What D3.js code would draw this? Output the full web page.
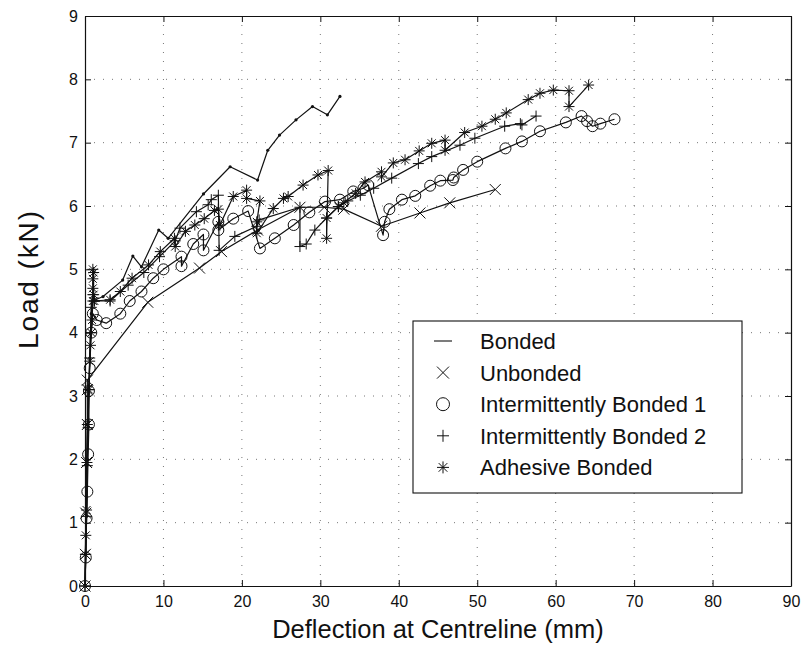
<!DOCTYPE html>
<html>
<head>
<meta charset="utf-8">
<script src="https://cdn.jsdelivr.net/npm/d3@7"></script>
<style>
  html, body { margin: 0; padding: 0; background: #fff; }
  svg { display: block; }
  text { font-family: "Liberation Sans", Arial, Helvetica, sans-serif; fill: #111; }
</style>
</head>
<body>
<svg id="chart" width="805" height="645"></svg>
<script>
// ---------- Data (deflection mm, load kN) ----------
const xTicks = [0, 10, 20, 30, 40, 50, 60, 70, 80, 90];
const yTicks = [0, 1, 2, 3, 4, 5, 6, 7, 8, 9];

const bondedX = [0, 0.1, 0.2, 0.3, 0.4, 0.5, 0.6, 0.7, 0.8, 1.0, 2.3, 4.8, 6.1, 7.2, 9.4, 10.6, 15.1, 18.5, 22.0, 23.3, 24.8, 26.9, 29.0, 30.9, 32.5];
const bondedY = [0, 0.5, 1.1, 2.0, 2.6, 3.1, 3.6, 4.0, 4.3, 4.5, 4.57, 4.83, 5.21, 5.04, 5.62, 5.49, 6.19, 6.62, 6.41, 6.88, 7.12, 7.36, 7.57, 7.44, 7.73];

const unbondedX = [0, 0.05, 0.1, 0.2, 0.3, 0.3, 0.3, 8.0, 14.6, 17.4, 22.0, 27.4, 30.5, 33.0, 37.8, 42.7, 46.5, 52.3];
const unbondedY = [0, 0.5, 1.15, 1.95, 2.55, 3.1, 3.25, 4.48, 5.02, 5.28, 5.62, 5.98, 5.98, 5.95, 5.68, 5.89, 6.05, 6.26];

const ib1X = [0, 0.1, 0.2, 0.3, 0.4, 0.5, 0.5, 0.6, 0.8, 1.0, 1.5, 2.7, 4.5, 5.7, 7.2, 8.7, 10.0, 12.3, 12.3, 13.8, 15.1, 15.1, 17.0, 17.0, 18.9, 20.8, 22.3, 24.2, 26.6, 28.6, 30.6, 32.5, 34.2, 35.5, 36.1, 38.0, 38.2, 38.8, 40.4, 42.1, 44.0, 45.3, 46.9, 47.0, 48.2, 50.0, 53.6, 55.7, 58.0, 61.3, 63.3, 64.0, 64.7, 65.7, 67.5];
const ib1Y = [0, 0.45, 1.07, 1.49, 2.08, 2.55, 3.08, 3.44, 4.0, 4.3, 4.2, 4.15, 4.3, 4.5, 4.65, 4.86, 5.0, 5.2, 5.05, 5.4, 5.55, 5.3, 5.75, 5.62, 5.8, 5.92, 5.33, 5.49, 5.7, 5.9, 6.07, 6.1, 6.23, 6.28, 6.33, 5.54, 5.75, 5.95, 6.1, 6.16, 6.32, 6.4, 6.41, 6.45, 6.57, 6.7, 6.91, 7.02, 7.18, 7.32, 7.42, 7.34, 7.26, 7.3, 7.37];

const ib2X = [0, 0.1, 0.2, 0.3, 0.4, 0.5, 0.6, 0.7, 0.8, 1.0, 1.2, 3.2, 5.5, 7.5, 9.5, 11.5, 12.1, 14.2, 15.7, 16.1, 17.0, 17.1, 19.1, 21.9, 22.2, 27.4, 27.4, 28.2, 29.3, 30.8, 32.3, 33.5, 35.1, 36.8, 39.1, 42.5, 44.2, 47.8, 49.7, 53.5, 55.5, 55.7, 57.5];
const ib2Y = [0, 0.5, 1.1, 1.9, 2.5, 3.1, 3.6, 4.0, 4.4, 4.6, 4.5, 4.5, 4.75, 4.95, 5.2, 5.45, 5.65, 5.91, 6.02, 6.1, 6.17, 5.3, 5.52, 5.68, 5.78, 5.98, 5.36, 5.4, 5.62, 5.81, 5.99, 6.08, 6.17, 6.28, 6.44, 6.67, 6.78, 6.96, 7.07, 7.26, 7.3, 7.28, 7.42];

const adhX = [0, 0.05, 0.1, 0.2, 0.25, 0.3, 0.5, 0.6, 0.7, 0.8, 0.9, 1.0, 1.0, 1.0, 1.0, 1.1, 1.1, 1.2, 3.2, 4.5, 6.0, 8.1, 9.6, 11.4, 11.5, 12.8, 14.0, 15.2, 16.5, 17.0, 17.2, 18.9, 20.6, 20.6, 22.3, 21.9, 21.9, 24.0, 25.3, 25.9, 27.8, 29.7, 31.0, 30.8, 30.8, 32.3, 33.0, 34.5, 35.7, 37.8, 37.8, 39.3, 40.8, 42.6, 44.2, 45.9, 45.9, 48.4, 50.6, 52.3, 53.7, 56.5, 58.0, 59.7, 61.7, 61.7, 64.2];
const adhY = [0, 0.5, 0.8, 1.2, 1.95, 2.55, 3.1, 3.55, 3.8, 4.0, 4.2, 4.5, 4.7, 4.85, 5.0, 4.95, 4.6, 4.5, 4.52, 4.65, 4.86, 5.07, 5.28, 5.49, 5.36, 5.6, 5.7, 5.8, 5.93, 5.95, 5.7, 6.15, 6.25, 6.12, 6.08, 5.75, 5.57, 5.96, 6.12, 6.15, 6.33, 6.49, 6.56, 5.49, 5.81, 5.99, 6.05, 6.2, 6.38, 6.54, 6.46, 6.68, 6.73, 6.87, 6.99, 7.04, 6.88, 7.16, 7.26, 7.37, 7.47, 7.68, 7.78, 7.83, 7.82, 7.57, 7.91];

const seriesNames = ["Bonded", "Unbonded", "Intermittently Bonded 1", "Intermittently Bonded 2", "Adhesive Bonded"];
const seriesMarkers = ["dot", "x", "o", "plus", "star"];
const seriesX = [bondedX, unbondedX, ib1X, ib2X, adhX];
const seriesY = [bondedY, unbondedY, ib1Y, ib2Y, adhY];

// ---------- Layout ----------
const svg = d3.select("#chart");
const L = 85, R = 791, T = 16, B = 586;
const x = d3.scaleLinear().domain([0, 90]).range([L, R]);
const y = d3.scaleLinear().domain([0, 9]).range([B, T]);
const ink = "#111";

// grid
const grid = svg.append("g");
grid.selectAll("line.gx").data(xTicks.slice(1, -1)).join("line")
  .attr("x1", d => x(d)).attr("x2", d => x(d)).attr("y1", T).attr("y2", B)
  .attr("stroke", "#777").attr("stroke-width", 1).attr("stroke-dasharray", "1,8");
grid.selectAll("line.gy").data(yTicks.slice(1, -1)).join("line")
  .attr("y1", d => y(d)).attr("y2", d => y(d)).attr("x1", L).attr("x2", R)
  .attr("stroke", "#777").attr("stroke-width", 1).attr("stroke-dasharray", "1,8");

// axes (ticks inside, all four sides)
const tickLen = 6;
const axB = svg.append("g").attr("transform", `translate(0,${B})`)
  .call(d3.axisBottom(x).tickValues(xTicks).tickSizeInner(-tickLen).tickSizeOuter(0).tickPadding(10));
const axT = svg.append("g").attr("transform", `translate(0,${T})`)
  .call(d3.axisTop(x).tickValues(xTicks).tickSizeInner(-tickLen).tickSizeOuter(0).tickFormat(""));
const axL = svg.append("g").attr("transform", `translate(${L},0)`)
  .call(d3.axisLeft(y).tickValues(yTicks).tickSizeInner(-tickLen).tickSizeOuter(0).tickPadding(7));
const axR = svg.append("g").attr("transform", `translate(${R},0)`)
  .call(d3.axisRight(y).tickValues(yTicks).tickSizeInner(-tickLen).tickSizeOuter(0).tickFormat(""));
[axB, axT, axL, axR].forEach(a => {
  a.select(".domain").attr("stroke", ink).attr("stroke-width", 1.2);
  a.selectAll(".tick line").attr("stroke", ink).attr("stroke-width", 1);
  a.selectAll(".tick text").attr("font-size", 16).attr("fill", ink)
    .attr("font-family", '"Liberation Sans", Arial, sans-serif');
});

// axis labels
svg.append("text").attr("x", (L + R) / 2).attr("y", 638).attr("text-anchor", "middle")
  .attr("font-size", 25.5).text("Deflection at Centreline (mm)");
svg.append("text").attr("transform", `translate(38,280) rotate(-90)`)
  .attr("text-anchor", "middle").attr("font-size", 28)
  .attr("textLength", 138).attr("lengthAdjust", "spacing").text("Load (kN)");

// marker path generator
function markerPath(type, s) {
  switch (type) {
    case "x": return `M${-s},${-s}L${s},${s}M${-s},${s}L${s},${-s}`;
    case "plus": return `M${-s},0H${s}M0,${-s}V${s}`;
    case "star": { const d = s * 0.72; return `M${-s},0H${s}M0,${-s}V${s}M${-d},${-d}L${d},${d}M${-d},${d}L${d},${-d}`; }
    default: return "";
  }
}
function drawMarker(g, type, cx, cy, big) {
  if (type === "o") {
    g.append("circle").attr("cx", cx).attr("cy", cy).attr("r", big ? 6.5 : 5.5)
      .attr("fill", "none").attr("stroke", ink).attr("stroke-width", 1);
  } else if (type === "dot") {
    g.append("circle").attr("cx", cx).attr("cy", cy).attr("r", 1.6).attr("fill", ink);
  } else {
    g.append("path").attr("transform", `translate(${cx},${cy})`)
      .attr("d", markerPath(type, big ? 6 : 5.5)).attr("fill", "none")
      .attr("stroke", ink).attr("stroke-width", 1);
  }
}

// series
const lineGen = d3.line().x(d => x(d[0])).y(d => y(d[1]));
const plot = svg.append("g");
seriesNames.forEach((name, i) => {
  const pts = seriesX[i].map((v, j) => [v, seriesY[i][j]]);
  const g = plot.append("g").attr("class", "series");
  g.append("path").attr("d", lineGen(pts)).attr("fill", "none")
    .attr("stroke", ink).attr("stroke-width", 1.2).attr("stroke-linejoin", "round");
  pts.forEach(p => drawMarker(g, seriesMarkers[i], x(p[0]), y(p[1]), false));
});

// legend
const lg = svg.append("g");
lg.append("rect").attr("x", 413).attr("y", 321).attr("width", 329).attr("height", 172)
  .attr("fill", "#fff").attr("stroke", ink).attr("stroke-width", 1.1);
seriesNames.forEach((name, i) => {
  const cy = 341 + i * 31.6;
  if (seriesMarkers[i] === "dot") {
    lg.append("line").attr("x1", 434).attr("x2", 452).attr("y1", cy).attr("y2", cy)
      .attr("stroke", ink).attr("stroke-width", 1.1);
  } else {
    drawMarker(lg, seriesMarkers[i], 443, cy, true);
  }
  lg.append("text").attr("x", 480).attr("y", cy + 8).attr("font-size", 22).text(name);
});
</script>
</body>
</html>
